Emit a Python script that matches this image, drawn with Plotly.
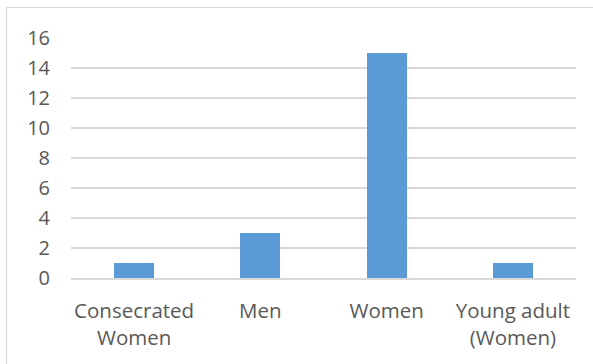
import plotly.graph_objects as go

categories = ["Consecrated<br>Women", "Men", "Women", "Young adult<br>(Women)"]
counts = [1, 3, 15, 1]
y_ticks = [0, 2, 4, 6, 8, 10, 12, 14, 16]

BAR_COLOR = "#5B9BD5"
GRID_COLOR = "#D9D9D9"
TEXT_COLOR = "#595959"
FONT = "Open Sans"

W, H = 593, 364
ML, MR, MT, MB = 71, 17, 38, 86
plot_w = W - ML - MR
plot_h = H - MT - MB

fig = go.Figure(
    go.Bar(
        x=categories,
        y=counts,
        marker=dict(color=BAR_COLOR, line=dict(width=0)),
        width=0.317,
    )
)

# chart frame: left and top edges visible, remaining edges run past the canvas
fx0 = (6.5 - ML) / plot_w
fy1 = (H - MB - 7.5) / plot_h
fig.add_shape(
    type="rect", xref="paper", yref="paper",
    x0=fx0, x1=1.2, y0=-0.6, y1=fy1,
    line=dict(color="#D9D9D9", width=1.2), fillcolor="rgba(0,0,0,0)",
    layer="below",
)

fig.update_layout(
    width=W, height=H,
    margin=dict(l=ML, r=MR, t=MT, b=MB),
    paper_bgcolor="white", plot_bgcolor="white",
    showlegend=False,
    bargap=0,
    font=dict(family=FONT, size=20, color=TEXT_COLOR),
)
fig.update_xaxes(
    showgrid=False, showline=True, linecolor=GRID_COLOR, linewidth=1.5,
    ticks="", tickfont=dict(family=FONT, size=20.5, color=TEXT_COLOR),
    ticklabelstandoff=14,
)
fig.update_yaxes(
    range=[0, 16], tickvals=y_ticks, showgrid=True, gridcolor=GRID_COLOR,
    gridwidth=1.5, zeroline=False, showline=False, ticks="",
    tickfont=dict(family=FONT, size=20, color=TEXT_COLOR),
    ticklabelstandoff=20,
)

fig.write_html("out.html")
